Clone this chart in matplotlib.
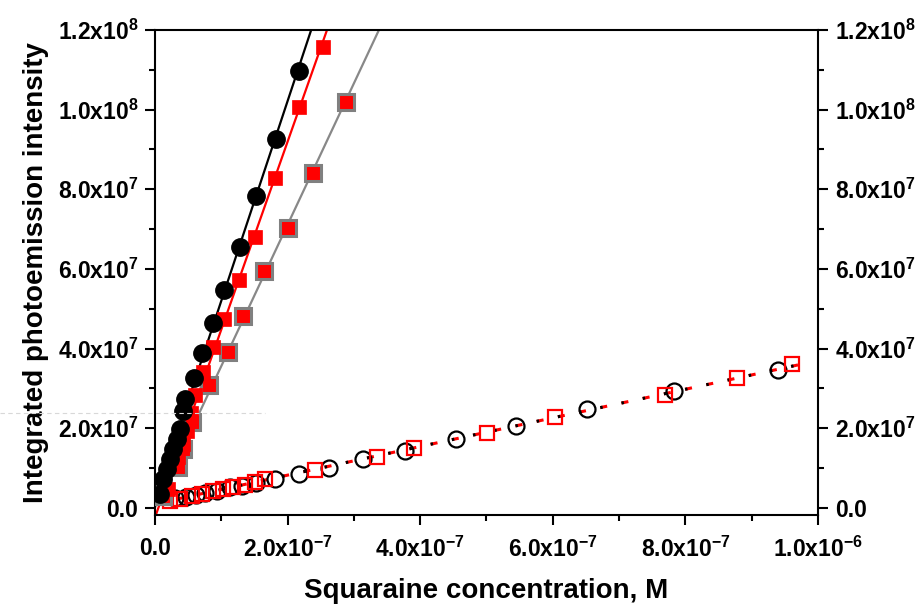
import matplotlib
matplotlib.use('Agg')
import matplotlib.pyplot as plt
import numpy as np
from matplotlib.ticker import MultipleLocator, FuncFormatter
from matplotlib.lines import Line2D

plt.rcParams['font.family'] = 'Liberation Sans'
plt.rcParams['font.weight'] = 'bold'
plt.rcParams['mathtext.fontset'] = 'custom'
plt.rcParams['mathtext.rm'] = 'Liberation Sans:bold'
plt.rcParams['mathtext.bf'] = 'Liberation Sans:bold'
plt.rcParams['mathtext.default'] = 'bf'

# filled black circles
conc_black = np.array([0.0075, 0.012, 0.018, 0.023, 0.027, 0.033, 0.038, 0.042, 0.045,
                       0.0588, 0.0709, 0.0875, 0.104, 0.128, 0.152, 0.1825, 0.217]) * 1e-6
int_black = np.array([3.5, 7.3, 9.8, 12.3, 14.8, 17.4, 19.9, 24.4, 27.4,
                      32.5, 39.0, 46.5, 54.8, 65.4, 78.2, 92.6, 109.7]) * 1e6

# filled red squares
conc_red = np.array([0.02, 0.035, 0.042, 0.048, 0.055, 0.061, 0.0724, 0.087, 0.104,
                     0.127, 0.151, 0.181, 0.217, 0.253]) * 1e-6
int_red = np.array([4.8, 12.8, 16.1, 19.4, 23.9, 28.4, 34.2, 40.5, 47.5,
                    57.1, 67.9, 82.8, 100.6, 115.7]) * 1e6

# red squares with grey edge
conc_grey = np.array([0.012, 0.035, 0.042, 0.0558, 0.0814, 0.110, 0.1327, 0.1644,
                      0.2006, 0.238, 0.288]) * 1e-6
int_grey = np.array([3.0, 10.3, 14.8, 21.6, 30.9, 39.2, 48.1, 59.4,
                     70.4, 84.0, 101.9]) * 1e6

# open circles
conc_open_c = np.array([0.030, 0.047, 0.062, 0.075, 0.094, 0.113, 0.131, 0.152, 0.181,
                        0.217, 0.262, 0.314, 0.377, 0.454, 0.544, 0.652, 0.783, 0.940]) * 1e-6
int_open_c = np.array([2.5, 2.8, 3.3, 3.8, 4.3, 5.3, 5.5, 6.3, 7.3,
                       8.6, 10.1, 12.3, 14.3, 17.4, 20.6, 24.7, 29.4, 34.5]) * 1e6

# open red squares
conc_open_s = np.array([0.0226, 0.0377, 0.0558, 0.0709, 0.0875, 0.1026, 0.1176, 0.1357, 0.1508,
                        0.166, 0.241, 0.335, 0.391, 0.501, 0.603, 0.769, 0.878, 0.961]) * 1e-6
int_open_s = np.array([1.8, 2.3, 3.0, 3.5, 4.3, 4.8, 5.3, 5.8, 6.5,
                       7.3, 9.6, 12.8, 15.1, 18.9, 22.9, 28.4, 32.5, 36.0]) * 1e6


def sci_label(v, pos):
    if v == 0:
        return '0.0'
    exp = int(np.floor(np.log10(abs(v))))
    mant = v / 10 ** exp
    return f'{mant:.1f}x10$^{{{exp}}}$'


fig = plt.figure(figsize=(9.24, 6.09), dpi=100)
ax = fig.add_axes([0.1677, 0.1544, 0.7176, 0.7963])

# linear fits through each series
xfit = np.linspace(0, 0.45e-6, 50)
for cx, cy, col in [(conc_black, int_black, 'black'),
                    (conc_red, int_red, 'red'),
                    (conc_grey, int_grey, '#888888')]:
    p = np.polyfit(cx, cy, 1)
    ax.plot(xfit, np.polyval(p, xfit), color=col, lw=1.6, zorder=2)

p_low = np.polyfit(np.concatenate([conc_open_c, conc_open_s]),
                   np.concatenate([int_open_c, int_open_s]), 1)
xlow = np.linspace(0, 0.98e-6, 100)
ax.plot(xlow, np.polyval(p_low, xlow), color='red', lw=2.2,
        linestyle=(0, (2.3, 4.8)), zorder=2)
ax.plot(xlow, np.polyval(p_low, xlow), color='black', lw=2.2,
        linestyle=(0, (0.8, 6.3)), zorder=2)

ax.plot(conc_open_c, int_open_c, 'o', ms=11.5, mfc='none', mec='black', mew=1.6, zorder=3)
ax.plot(conc_open_s, int_open_s, 's', ms=10.5, mfc='none', mec='red', mew=1.6, zorder=3)
ax.plot(conc_grey, int_grey, 's', ms=11, mfc='red', mec='#808080', mew=2.2, zorder=4)
ax.plot(conc_red, int_red, 's', ms=10, mfc='red', mec='red', mew=0.5, zorder=5)
ax.plot(conc_black, int_black, 'o', ms=12.5, mfc='black', mec='black', zorder=6)

ax.set_xlim(0, 1.0e-6)
ax.set_ylim(-1.8e6, 1.2e8)

ax.xaxis.set_major_locator(MultipleLocator(2e-7))
ax.xaxis.set_minor_locator(MultipleLocator(1e-7))
ax.yaxis.set_major_locator(MultipleLocator(2e7))
ax.yaxis.set_minor_locator(MultipleLocator(1e7))
ax.xaxis.set_major_formatter(FuncFormatter(sci_label))
ax.yaxis.set_major_formatter(FuncFormatter(sci_label))

ax.tick_params(which='both', direction='out', width=1.5, labelsize=16.5,
               left=True, right=True, labelright=True, top=False)
ax.tick_params(which='major', length=7, pad=5)
ax.tick_params(which='minor', length=4)
ax.tick_params(axis='x', which='major', pad=9)
for lab in ax.get_xticklabels() + ax.get_yticklabels():
    lab.set_fontweight('bold')
for s in ax.spines.values():
    s.set_linewidth(1.5)

ax.set_xlabel('Squaraine concentration, M', fontsize=20, fontweight='bold', labelpad=11)
ax.set_ylabel('Integrated photoemission intensity', fontsize=20, fontweight='bold', labelpad=6)

# faint scan artefact line
fig.add_artist(Line2D([0.0, 0.287], [1 - 413 / 609, 1 - 413 / 609], color='#d8d8d8',
                      lw=0.8, linestyle=(0, (4, 3))))

fig.savefig('out.png', dpi=100)
